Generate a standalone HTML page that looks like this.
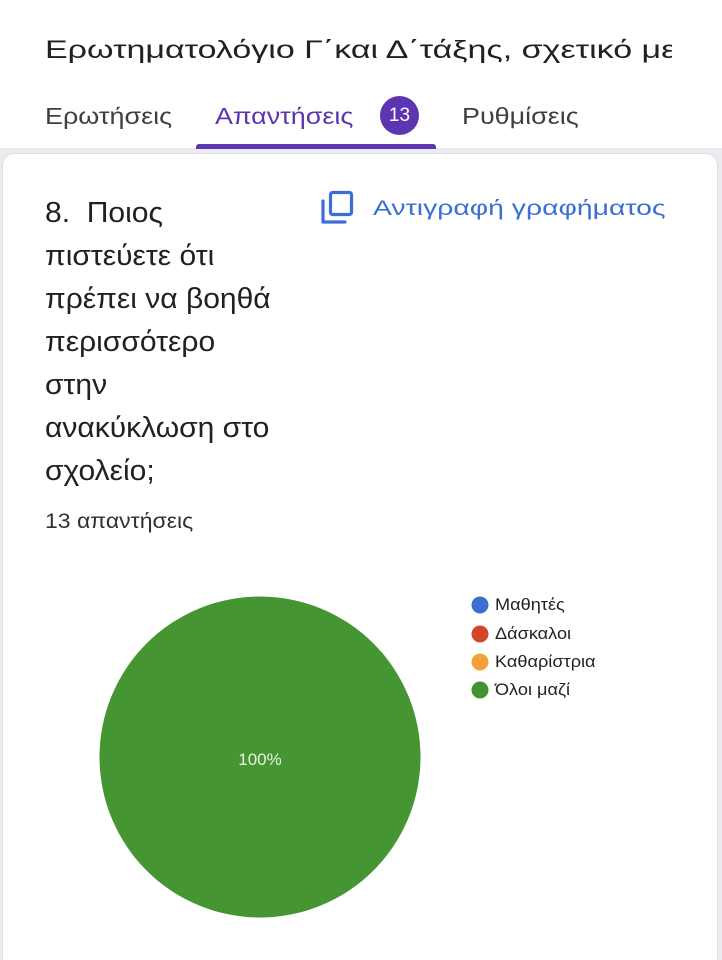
<!DOCTYPE html>
<html>
<head>
<meta charset="utf-8">
<style>
  html,body{margin:0;padding:0;width:722px;height:960px;overflow:hidden;}
  body{position:relative;background:#ffffff;font-family:"Liberation Sans","Noto Sans CJK SC",sans-serif;color:#202124;}
  .abs{position:absolute;white-space:nowrap;}
  .titlewrap{left:45px;top:30px;width:627px;height:45px;overflow:hidden;}
  .title{left:0;top:8px;font-size:25px;line-height:25px;color:#202124;transform:scaleX(1.36);transform-origin:0 0;}
  .tab{top:105px;font-size:23px;line-height:23px;color:#3c4043;transform:scaleX(1.17);transform-origin:0 0;}
  .band{left:0;top:148px;width:722px;height:812px;background:#ececf0;}
  .card{left:2px;top:153px;width:716px;height:807px;background:#fff;border:1px solid #dcdce2;border-bottom:none;border-radius:12px 12px 0 0;box-sizing:border-box;}
  .q{left:45px;top:192px;font-size:29px;line-height:43px;color:#202124;transform:scaleX(1.035);transform-origin:0 0;}
  .cnt{left:45px;top:511px;font-size:21.5px;line-height:21.5px;color:#303134;transform:scaleX(1.07);transform-origin:0 0;}
  .copy{left:373px;top:198px;font-size:21px;line-height:21px;color:#3a70d6;transform:scaleX(1.35);transform-origin:0 0;}
  .leg{font-size:16.5px;color:#222;left:495px;transform:scaleX(1.1);transform-origin:0 0;}
</style>
</head>
<body>
  <div class="abs titlewrap"><div class="abs title">Ερωτηματολόγιο Γ΄και Δ΄τάξης, σχετικό με</div></div>

  <div class="abs tab" style="left:45px;">Ερωτήσεις</div>
  <div class="abs tab" style="left:215px;color:#5e35b1;">Απαντήσεις</div>
  <div class="abs" style="left:380px;top:96px;width:39px;height:39px;border-radius:50%;background:#5e35b1;color:#fff;font-size:19px;line-height:39px;text-align:center;">13</div>
  <div class="abs tab" style="left:462px;">Ρυθμίσεις</div>

  <div class="abs band"></div>
  <div class="abs" style="left:196px;top:144px;width:240px;height:5px;background:#5e35b1;border-radius:3px 3px 0 0;"></div>
  <div class="abs card"></div>

  <div class="abs q">8.&nbsp; Ποιος<br>πιστεύετε ότι<br>πρέπει να βοηθά<br>περισσότερο<br>στην<br>ανακύκλωση στο<br>σχολείο;</div>
  <div class="abs cnt">13 απαντήσεις</div>

  <svg class="abs" style="left:318px;top:189px;" width="40" height="40" viewBox="0 0 40 40">
    <path d="M5 12 V33 H27" fill="none" stroke="#3a70d6" stroke-width="3.2" stroke-linecap="round" stroke-linejoin="round"/>
    <rect x="12.5" y="3.5" width="21" height="22" rx="2" fill="none" stroke="#3a70d6" stroke-width="3.2"/>
  </svg>
  <div class="abs copy">Αντιγραφή γραφήματος</div>

  <svg class="abs" style="left:0;top:0;" width="722" height="960">
    <circle cx="260" cy="757" r="160.5" fill="#459632"/>
    <text x="260" y="765" text-anchor="middle" font-family="Liberation Sans, sans-serif" font-size="17" fill="#e6f3df">100%</text>
    <circle cx="480" cy="605" r="8.5" fill="#3c6fd4"/>
    <circle cx="480" cy="634" r="8.5" fill="#d2472a"/>
    <circle cx="480" cy="662" r="8.5" fill="#f2a23a"/>
    <circle cx="480" cy="690" r="8.5" fill="#3f9630"/>
  </svg>
  <div class="abs leg" style="top:596px;">Μαθητές</div>
  <div class="abs leg" style="top:625px;">Δάσκαλοι</div>
  <div class="abs leg" style="top:653px;">Καθαρίστρια</div>
  <div class="abs leg" style="top:681px;">Όλοι μαζί</div>
</body>
</html>
